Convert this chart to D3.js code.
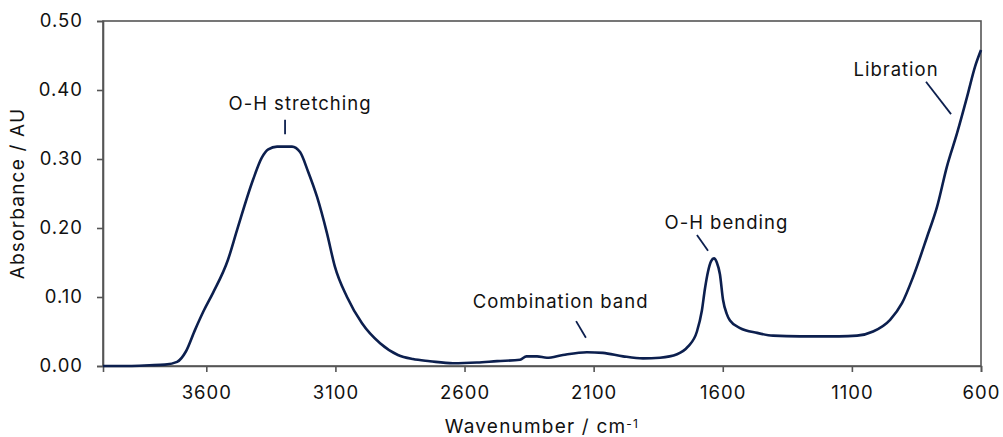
<!DOCTYPE html>
<html>
<head>
<meta charset="utf-8">
<script src="https://cdn.jsdelivr.net/npm/d3@7"></script>
<style>
  html, body { margin: 0; padding: 0; background: #fff; }
  svg { display: block; font-family: Inter, "Noto Sans", sans-serif; }
</style>
</head>
<body>
<svg id="chart" width="1003" height="437"></svg>
<script>
// Infrared absorbance spectrum of liquid water
const wavenumber = [
  4000, 3900, 3820, 3760, 3713, 3679, 3644, 3610, 3574, 3516, 3481, 3419, 3385, 3360,
  3326, 3268, 3237, 3206, 3171, 3133, 3102, 3055, 2997, 2927, 2858, 2800, 2734, 2645,
  2552, 2474, 2385, 2360, 2319, 2281, 2219, 2126, 2064, 1986, 1909, 1843, 1777, 1735,
  1700, 1681, 1669, 1657, 1645, 1634, 1623, 1611, 1599, 1585, 1572, 1533, 1467, 1405,
  1301, 1150, 1080, 1018, 952, 906, 863, 809, 770, 732, 693, 654, 623, 600
];
const absorbance = [
  0.000, 0.000, 0.001, 0.002, 0.006, 0.021, 0.052, 0.080, 0.106, 0.154, 0.197, 0.270, 0.302, 0.314,
  0.318, 0.318, 0.310, 0.282, 0.245, 0.193, 0.144, 0.100, 0.062, 0.033, 0.016, 0.010, 0.007, 0.004,
  0.005, 0.007, 0.009, 0.014, 0.014, 0.012, 0.016, 0.020, 0.019, 0.014, 0.011, 0.012, 0.017, 0.028,
  0.050, 0.080, 0.112, 0.137, 0.152, 0.156, 0.150, 0.133, 0.096, 0.076, 0.066, 0.055, 0.048, 0.044,
  0.043, 0.043, 0.044, 0.050, 0.067, 0.091, 0.129, 0.187, 0.231, 0.289, 0.337, 0.390, 0.434, 0.458
];
const xTicks = [3600, 3100, 2600, 2100, 1600, 1100, 600];
const yTicks = [0, 0.1, 0.2, 0.3, 0.4, 0.5];

// Band annotations: label, label anchor (wavenumber, absorbance), leader line ends
const bandLabels = ["O-H stretching", "Combination band", "O-H bending", "Libration"];
const bandLabelPos = [[3237, 0.371], [2228, 0.084], [1586, 0.199], [929, 0.420]];
const bandLeader = [
  [[3295, 0.357], [3295, 0.336]],
  [[2168, 0.065], [2130, 0.041]],
  [[1700, 0.190], [1657, 0.167]],
  [[813, 0.412], [716, 0.365]]
];

const svg = d3.select("#chart");
const m = { left: 103, right: 981, top: 21, bottom: 366 };

const x = d3.scaleLinear().domain([4000, 600]).range([m.left, m.right]);
const y = d3.scaleLinear().domain([0, 0.5]).range([m.bottom, m.top]);

const axisColor = "#555";
const textColor = "#111";
const lineColor = "#0c1f4e";
const fontSize = "18.5px";
const spacing = "1px";

// Frame
svg.append("rect")
  .attr("x", m.left).attr("y", m.top)
  .attr("width", m.right - m.left).attr("height", m.bottom - m.top)
  .attr("fill", "none").attr("stroke", axisColor).attr("stroke-width", 1.6);

// Y axis
const yAxis = svg.append("g")
  .attr("transform", `translate(${m.left},0)`)
  .call(d3.axisLeft(y).tickValues(yTicks).tickFormat(d3.format(".2f")).tickSize(6).tickPadding(14));
// X axis
const xAxis = svg.append("g")
  .attr("transform", `translate(0,${m.bottom})`)
  .call(d3.axisBottom(x).tickValues(xTicks).tickFormat(d3.format("d")).tickSize(6).tickPadding(14));

[yAxis, xAxis].forEach(g => {
  g.select(".domain").attr("stroke", axisColor).attr("stroke-width", 1.6);
  g.selectAll(".tick line").attr("stroke", axisColor).attr("stroke-width", 1.6);
  g.selectAll(".tick text")
    .attr("fill", textColor)
    .style("font-size", fontSize)
    .style("letter-spacing", spacing)
    .style("font-family", "Inter, 'Noto Sans', sans-serif");
});
xAxis.selectAll(".tick text").attr("dy", "0.71em");

// Axis titles
svg.append("text")
  .attr("x", 542).attr("y", 433)
  .attr("text-anchor", "middle")
  .attr("fill", textColor)
  .style("font-size", "19px")
  .style("letter-spacing", "1.2px")
  .text("Wavenumber / cm")
  .append("tspan")
  .attr("dy", "-0.45em")
  .style("font-size", "12px")
  .text("-1");

svg.append("text")
  .attr("transform", `translate(24,${(m.top + m.bottom) / 2}) rotate(-90)`)
  .attr("text-anchor", "middle")
  .attr("fill", textColor)
  .style("font-size", "19px")
  .style("letter-spacing", "1.2px")
  .text("Absorbance / AU");

// Spectrum
const line = d3.line()
  .x((d, i) => x(wavenumber[i]))
  .y((d, i) => y(absorbance[i]))
  .curve(d3.curveMonotoneX);

svg.append("path")
  .datum(absorbance)
  .attr("d", line)
  .attr("fill", "none")
  .attr("stroke", lineColor)
  .attr("stroke-width", 2.6)
  .attr("stroke-linejoin", "round");

// Annotations
bandLabels.forEach((label, i) => {
  svg.append("text")
    .attr("x", x(bandLabelPos[i][0]))
    .attr("y", y(bandLabelPos[i][1]))
    .attr("text-anchor", "middle")
    .attr("fill", textColor)
    .style("font-size", fontSize)
    .style("letter-spacing", spacing)
    .text(label);
  const [p0, p1] = bandLeader[i];
  svg.append("line")
    .attr("x1", x(p0[0])).attr("y1", y(p0[1]))
    .attr("x2", x(p1[0])).attr("y2", y(p1[1]))
    .attr("stroke", lineColor).attr("stroke-width", 1.8);
});
</script>
</body>
</html>
